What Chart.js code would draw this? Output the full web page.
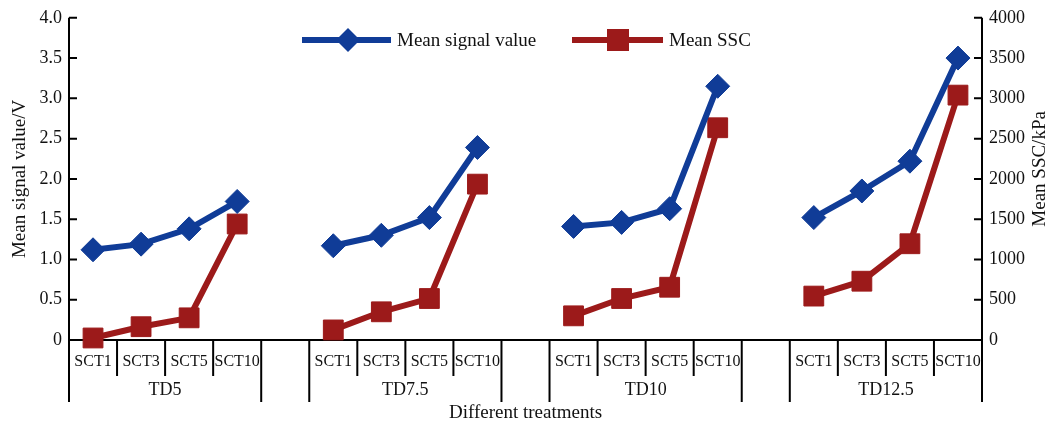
<!DOCTYPE html>
<html>
<head>
<meta charset="utf-8">
<script src="https://cdn.jsdelivr.net/npm/chart.js@4/dist/chart.umd.min.js"></script>
<style>
	html, body { margin: 0; padding: 0; background: #fff; }
	#wrap { width: 1051px; height: 423px; }
</style>
</head>
<body>
<div id="wrap"><canvas id="myChart" width="1051" height="423"></canvas></div>
<script>
const groups = ['TD5', 'TD7.5', 'TD10', 'TD12.5'];
const treatments = ['SCT1', 'SCT3', 'SCT5', 'SCT10'];

// Mean signal value (V), one array per group
const signalTD5 = [1.12, 1.19, 1.38, 1.72];
const signalTD75 = [1.17, 1.30, 1.52, 2.39];
const signalTD10 = [1.41, 1.46, 1.63, 3.15];
const signalTD125 = [1.52, 1.85, 2.22, 3.50];

// Mean SSC (kPa)
const sscTD5 = [25, 165, 275, 1440];
const sscTD75 = [125, 350, 515, 1935];
const sscTD10 = [300, 515, 655, 2635];
const sscTD125 = [545, 730, 1195, 3040];

const yTicksLeft = [0, 0.5, 1.0, 1.5, 2.0, 2.5, 3.0, 3.5, 4.0];
const yTicksRight = [0, 500, 1000, 1500, 2000, 2500, 3000, 3500, 4000];

const BLUE = '#103c97';
const RED = '#9c1a1a';
const FONT = '"Liberation Serif", "DejaVu Serif", serif';

// one empty slot between groups so the lines break there
function joinGroups(parts) {
	const out = [];
	parts.forEach((p, i) => {
		if (i > 0) out.push(null);
		p.forEach(v => out.push(v));
	});
	return out;
}

const slotLabels = joinGroups(groups.map(g => treatments.map(t => g + ' ' + t)));
const signalData = joinGroups([signalTD5, signalTD75, signalTD10, signalTD125]);
const sscData = joinGroups([sscTD5, sscTD75, sscTD10, sscTD125]);

const decorations = {
	id: 'decorations',
	beforeDatasetsDraw(chart) {
		const ctx = chart.ctx;
		const area = chart.chartArea;
		const x = chart.scales.x;
		const yl = chart.scales.y;
		const yr = chart.scales.y1;
		const half = (x.getPixelForValue(1) - x.getPixelForValue(0)) / 2;

		ctx.save();
		ctx.strokeStyle = '#000';
		ctx.lineWidth = 2;

		// axes
		ctx.beginPath();
		ctx.moveTo(area.left, area.top);
		ctx.lineTo(area.left, area.bottom);
		ctx.lineTo(area.right, area.bottom);
		ctx.lineTo(area.right, area.top);
		ctx.stroke();

		// inward ticks
		ctx.beginPath();
		yTicksLeft.forEach(v => {
			const py = yl.getPixelForValue(v);
			ctx.moveTo(area.left, py);
			ctx.lineTo(area.left + 8, py);
		});
		yTicksRight.forEach(v => {
			const py = yr.getPixelForValue(v);
			ctx.moveTo(area.right, py);
			ctx.lineTo(area.right - 8, py);
		});
		ctx.stroke();

		// category dividers and labels
		ctx.fillStyle = '#111';
		ctx.textAlign = 'center';
		ctx.textBaseline = 'middle';
		let slot = 0;
		groups.forEach((g, gi) => {
			if (gi > 0) slot++;
			const first = slot;
			const left = x.getPixelForValue(first) - half;
			const right = x.getPixelForValue(first + treatments.length - 1) + half;
			ctx.beginPath();
			ctx.moveTo(left, area.bottom);
			ctx.lineTo(left, area.bottom + 62);
			ctx.moveTo(right, area.bottom);
			ctx.lineTo(right, area.bottom + 62);
			treatments.forEach((t, ti) => {
				const cx = x.getPixelForValue(slot);
				if (ti > 0) {
					ctx.moveTo(cx - half, area.bottom);
					ctx.lineTo(cx - half, area.bottom + 36);
				}
				ctx.font = '16px ' + FONT;
				ctx.fillText(t, cx, area.bottom + 22);
				slot++;
			});
			ctx.stroke();
			ctx.font = '18px ' + FONT;
			ctx.fillText(g, (left + right) / 2, area.bottom + 50);
		});

		// axis titles
		ctx.font = '19px ' + FONT;
		ctx.fillText('Different treatments', (area.left + area.right) / 2, area.bottom + 73);
		const midY = (area.top + area.bottom) / 2;
		ctx.save();
		ctx.translate(20, midY);
		ctx.rotate(-Math.PI / 2);
		ctx.fillText('Mean signal value/V', 0, 0);
		ctx.restore();
		ctx.save();
		ctx.translate(1040, midY - 10);
		ctx.rotate(-Math.PI / 2);
		ctx.fillText('Mean SSC/kPa', 0, 0);
		ctx.restore();

		// legend
		const ly = 40;
		ctx.lineWidth = 6;
		ctx.strokeStyle = BLUE;
		ctx.beginPath();
		ctx.moveTo(302, ly);
		ctx.lineTo(391, ly);
		ctx.stroke();
		ctx.fillStyle = BLUE;
		ctx.beginPath();
		ctx.moveTo(348, ly - 12);
		ctx.lineTo(360, ly);
		ctx.lineTo(348, ly + 12);
		ctx.lineTo(336, ly);
		ctx.closePath();
		ctx.fill();
		ctx.strokeStyle = RED;
		ctx.beginPath();
		ctx.moveTo(572, ly);
		ctx.lineTo(663, ly);
		ctx.stroke();
		ctx.fillStyle = RED;
		ctx.fillRect(607, ly - 11, 22, 22);
		ctx.fillStyle = '#111';
		ctx.textAlign = 'left';
		ctx.fillText('Mean signal value', 397, ly + 1);
		ctx.fillText('Mean SSC', 669, ly + 1);
		ctx.restore();
	}
};

new Chart(document.getElementById('myChart'), {
	type: 'line',
	data: {
		labels: slotLabels,
		datasets: [{
			label: 'Mean signal value',
			data: signalData,
			yAxisID: 'y',
			borderColor: BLUE,
			backgroundColor: BLUE,
			borderWidth: 6,
			pointStyle: 'rectRot',
			pointRadius: 12,
			pointBorderWidth: 1,
			spanGaps: false,
			clip: false
		}, {
			label: 'Mean SSC',
			data: sscData,
			yAxisID: 'y1',
			borderColor: RED,
			backgroundColor: RED,
			borderWidth: 6,
			pointStyle: 'rect',
			pointRadius: 14,
			pointBorderWidth: 1,
			spanGaps: false,
			clip: false
		}]
	},
	options: {
		responsive: false,
		animation: false,
		layout: { padding: { top: 16, right: 0, left: 0, bottom: 0 } },
		plugins: {
			legend: { display: false },
			tooltip: { enabled: false }
		},
		scales: {
			x: {
				type: 'category',
				offset: true,
				grid: { display: false, drawTicks: false },
				border: { display: false },
				ticks: { display: false },
				afterFit: s => { s.height = 83; }
			},
			y: {
				position: 'left',
				min: 0,
				max: 4,
				grid: { display: false, drawTicks: false },
				border: { display: false },
				afterBuildTicks: s => { s.ticks = yTicksLeft.map(v => ({ value: v })); },
				ticks: {
					padding: 7,
					color: '#111',
					font: { family: FONT, size: 18 },
					callback: v => v === 0 ? '0' : v.toFixed(1)
				},
				afterFit: s => { s.width = 69; }
			},
			y1: {
				position: 'right',
				min: 0,
				max: 4000,
				grid: { display: false, drawTicks: false },
				border: { display: false },
				afterBuildTicks: s => { s.ticks = yTicksRight.map(v => ({ value: v })); },
				ticks: {
					padding: 7,
					color: '#111',
					font: { family: FONT, size: 18 },
					callback: v => String(v)
				},
				afterFit: s => { s.width = 69; }
			}
		}
	},
	plugins: [decorations]
});
</script>
</body>
</html>
